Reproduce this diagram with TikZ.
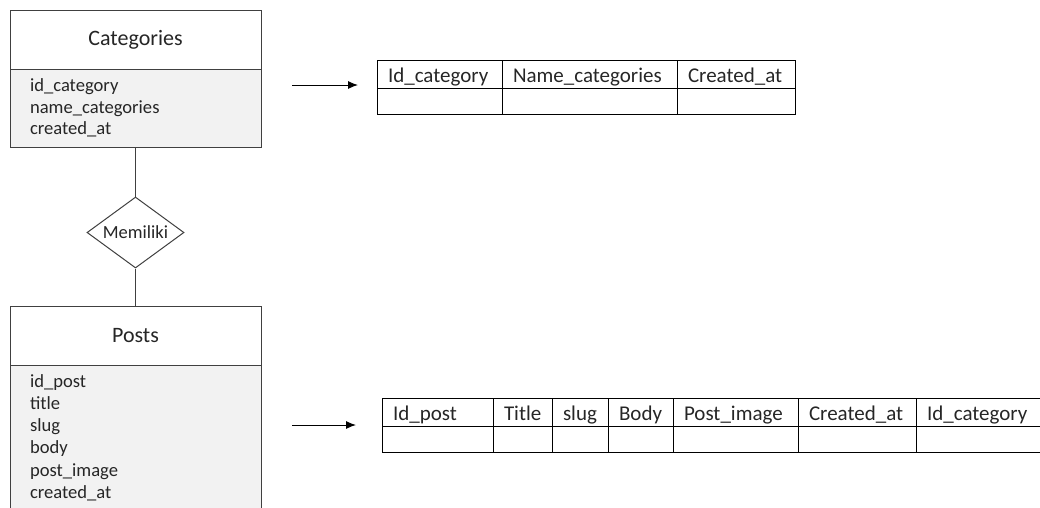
\documentclass[tikz,border=0pt]{standalone}
\usepackage{fontspec}
\setmainfont{Carlito}
\usetikzlibrary{arrows.meta, positioning, shapes.geometric}
\hyphenpenalty=10000
\tikzset{%
  >={Latex[width=8pt,length=10pt]},
  % Specifications for style of nodes:
        entity/.style = {rectangle, draw=black!75, line width=1pt,
                         minimum width=251pt, outer sep=0pt, inner sep=0pt},
    entityhead/.style = {entity, fill=white, minimum height=59pt,
                         font=\fontsize{22}{26}\selectfont},
    entitybody/.style = {entity, fill=black!5, text width=211pt, inner xsep=20pt,
                         align=left, font=\fontsize{18.6}{21.5}\selectfont},
      relation/.style = {diamond, draw=black!75, line width=1pt, fill=white,
                         inner sep=0pt, aspect=1.37, minimum width=97pt,
                         minimum height=71pt, font=\fontsize{18.5}{22}\selectfont},
          cell/.style = {rectangle, draw=black, line width=1pt, outer sep=0pt,
                         inner xsep=11pt, inner ysep=0pt, align=left,
                         font=\fontsize{21}{25}\selectfont},
         hcell/.style = {cell, minimum height=28pt, text height=18pt, text depth=2pt},
         bcell/.style = {cell, minimum height=26pt},
}

\begin{document}
\begin{tikzpicture}[x=1pt, y=-1pt, node distance=0pt,
    every node/.style={text=black!85}]
  \useasboundingbox (0,0) rectangle (1040,507);
  \clip (0,0) rectangle (1040,507);
  % Specification of entities and relation

  \node (cathead)		[entityhead] at (135.5,39.5) {Categories};
  \node (catbody)		[entitybody, below=of cathead, minimum height=78pt]
                      {id\_category\\name\_categories\\created\_at};
  \node (rel)			[relation] at (135.5,232.5) {Memiliki};
  \node (posthead)		[entityhead] at (135.5,335.5) {Posts};
  \node (postbody)		[entitybody, below=of posthead, minimum height=145pt,
                       font=\fontsize{18.6}{22.2}\selectfont]
                      {id\_post\\title\\slug\\body\\post\_image\\created\_at};

  \draw[black!75, line width=1pt]	(catbody) -- (rel);
  \draw[black!75, line width=1pt]	(rel) -- (posthead);

  % Table categories
  \node (catid)			[hcell, text width=103pt, anchor=north west] at (377,60) {Id\_category};
  \node (catname)		[hcell, text width=153pt, right=of catid] {Name\_categories};
  \node (catdate)		[hcell, text width=96pt, right=of catname] {Created\_at};
  \node (catidv)		[bcell, text width=103pt, below=of catid] {};
  \node (catnamev)		[bcell, text width=153pt, below=of catname] {};
  \node (catdatev)		[bcell, text width=96pt, below=of catdate] {};

  % Table posts
  \node (postid)		[hcell, text width=89pt, anchor=north west] at (382,398) {Id\_post};
  \node (posttitle)		[hcell, text width=37pt, right=of postid] {Title};
  \node (postslug)		[hcell, text width=34pt, right=of posttitle] {slug};
  \node (postbodyc)		[hcell, text width=43pt, right=of postslug] {Body};
  \node (postimage)		[hcell, text width=103pt, right=of postbodyc] {Post\_image};
  \node (postdate)		[hcell, text width=96pt, right=of postimage] {Created\_at};
  \node (postcat)		[hcell, text width=132pt, right=of postdate] {Id\_category};
  \node (postidv)		[bcell, text width=89pt, below=of postid] {};
  \node (posttitlev)	[bcell, text width=37pt, below=of posttitle] {};
  \node (postslugv)		[bcell, text width=34pt, below=of postslug] {};
  \node (postbodyv)		[bcell, text width=43pt, below=of postbodyc] {};
  \node (postimagev)	[bcell, text width=103pt, below=of postimage] {};
  \node (postdatev)		[bcell, text width=96pt, below=of postdate] {};
  \node (postcatv)		[bcell, text width=132pt, below=of postcat] {};

  % Arrows from entities to tables
  \coordinate (catfrom)	at (292,85);
  \coordinate (catto)	at (358,85);
  \coordinate (postfrom)	at (292,425);
  \coordinate (postto)	at (356,425);
  \draw[->, line width=1pt]	(catfrom) -- (catto);
  \draw[->, line width=1pt]	(postfrom) -- (postto);

\end{tikzpicture}
\end{document}
